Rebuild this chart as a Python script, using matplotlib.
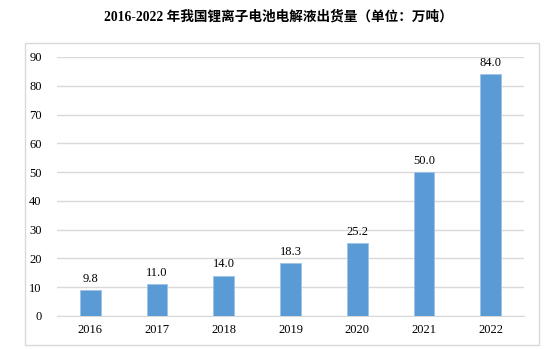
import matplotlib
matplotlib.use("Agg")
import matplotlib.pyplot as plt
from matplotlib.patches import Rectangle

years = ["2016", "2017", "2018", "2019", "2020", "2021", "2022"]
# bar heights as drawn in the picture, and the printed labels
heights = [9.0, 11.0, 14.0, 18.3, 25.2, 50.0, 84.0]
labels = ["9.8", "11.0", "14.0", "18.3", "25.2", "50.0", "84.0"]
yticks = [0, 10, 20, 30, 40, 50, 60, 70, 80, 90]

plt.rcParams['font.family'] = ['Liberation Serif', 'Noto Sans CJK SC']

fig = plt.figure(figsize=(5.57, 3.49), dpi=100)
ax = fig.add_axes([0.1023, 0.0946, 0.8384, 0.7421])

# light frame around the chart area
fig.patches.append(Rectangle((25 / 557, 1 - 345 / 349), 514 / 557, 302 / 349,
                             transform=fig.transFigure, fill=False,
                             edgecolor="#D9D9D9", linewidth=1))

x = range(len(years))
bars = ax.bar(x, heights, width=0.31, color="#5B9BD5", edgecolor="#9DC3E6",
              linewidth=0.6, zorder=3)
for b, lab in zip(bars, labels):
    ax.annotate(lab, (b.get_x() + b.get_width() / 2, b.get_height()),
                xytext=(0, 4), textcoords="offset points",
                ha="center", va="bottom", fontsize=9)

ax.set_xlim(-0.5, 6.5)
ax.set_ylim(0, 90)
ax.set_yticks(yticks)
ax.set_xticks(list(x))
ax.set_xticklabels(years)
ax.yaxis.grid(True, color="#D9D9D9", linewidth=1, zorder=0)
ax.tick_params(axis="both", length=0, labelsize=9)
ax.tick_params(axis="y", pad=11)
ax.tick_params(axis="x", pad=6)
for s in ["top", "right", "left"]:
    ax.spines[s].set_visible(False)
ax.spines["bottom"].set_color("#D9D9D9")

fig.text(0.5, 1 - 17 / 349, "2016-2022 年我国锂离子电池电解液出货量（单位：万吨）",
         ha="center", va="center", fontsize=9.8, fontweight="bold")

fig.savefig("out.png", dpi=100)
